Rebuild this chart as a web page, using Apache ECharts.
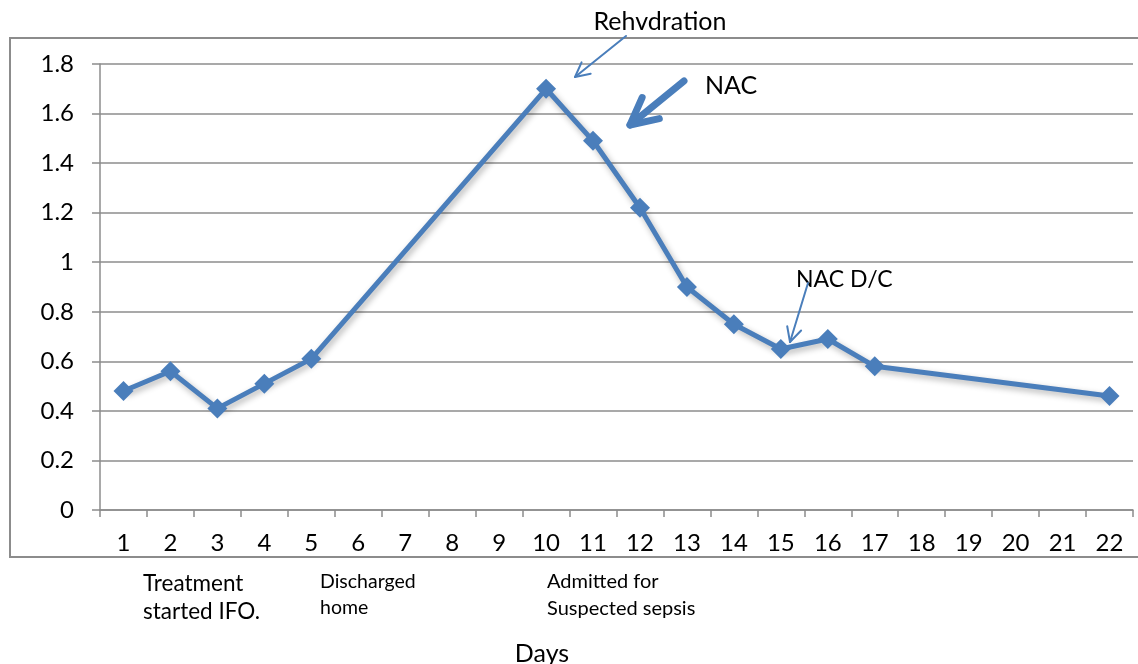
<!DOCTYPE html>
<html>
<head>
<meta charset="utf-8">
<script src="https://cdn.jsdelivr.net/npm/echarts@6/dist/echarts.min.js"></script>
<style>
  html, body { margin: 0; padding: 0; background: #fff; }
  #chart { width: 1138px; height: 664px; }
</style>
</head>
<body>
<div id="chart"></div>
<script>
// day numbers on the x axis
const days = ['1','2','3','4','5','6','7','8','9','10','11','12','13','14','15','16','17','18','19','20','21','22'];
// measured values (null = no reading that day)
const values = [0.48, 0.56, 0.41, 0.51, 0.61, null, null, null, null, 1.70, 1.49, 1.22, 0.90, 0.75, 0.65, 0.69, 0.58, null, null, null, null, 0.46];
const yTicks = [0, 0.2, 0.4, 0.6, 0.8, 1, 1.2, 1.4, 1.6, 1.8];

const blue = '#4a7ebb';
const font = 'Lato, "Open Sans", sans-serif';

// arrow made of a shaft and two head strokes
function arrow(x1, y1, x2, y2, width, headLen) {
  const ang = Math.atan2(y1 - y2, x1 - x2);
  const spread = 27 * Math.PI / 180;
  const hx1 = x2 + headLen * Math.cos(ang - spread), hy1 = y2 + headLen * Math.sin(ang - spread);
  const hx2 = x2 + headLen * Math.cos(ang + spread), hy2 = y2 + headLen * Math.sin(ang + spread);
  const st = { stroke: blue, lineWidth: width, lineCap: 'round', lineJoin: 'round', fill: null };
  return [
    { type: 'line', shape: { x1: x1, y1: y1, x2: x2, y2: y2 }, style: st, z: 10 },
    { type: 'polyline', shape: { points: [[hx1, hy1], [x2, y2], [hx2, hy2]] }, style: st, z: 10 }
  ];
}

function label(x, y, text, size, lh, align) {
  return {
    type: 'text', x: x, y: y, z: 10,
    style: { text: text, fontFamily: font, fontSize: size, fill: '#000', align: align || 'left', verticalAlign: 'middle', lineHeight: lh || size }
  };
}

const chart = echarts.init(document.getElementById('chart'));
chart.setOption({
  animation: false,
  grid: { left: 100, right: 5, top: 64, bottom: 154, outerBoundsMode: 'none' },
  xAxis: {
    type: 'category',
    data: days,
    boundaryGap: true,
    axisLine: { lineStyle: { color: '#8c8c8c', width: 1.5 } },
    axisTick: { show: true, alignWithLabel: false, inside: false, length: 7, lineStyle: { color: '#8c8c8c', width: 1.5 } },
    axisLabel: { fontFamily: font, fontSize: 24, color: '#000', margin: 21, interval: 0 },
    splitLine: { show: false }
  },
  yAxis: {
    type: 'value',
    min: 0,
    max: yTicks[yTicks.length - 1],
    interval: 0.2,
    axisLine: { show: true, lineStyle: { color: '#8c8c8c', width: 1.5 } },
    axisTick: { show: true, length: 8, lineStyle: { color: '#8c8c8c', width: 1.5 } },
    axisLabel: {
      fontFamily: font, fontSize: 24, color: '#000', margin: 26,
      formatter: function (v) { return String(Math.round(v * 10) / 10); }
    },
    splitLine: { show: true, lineStyle: { color: '#8c8c8c', width: 1.5 } }
  },
  series: [{
    type: 'line',
    data: values,
    connectNulls: true,
    symbol: 'diamond',
    symbolSize: 20,
    itemStyle: { color: blue },
    lineStyle: { color: blue, width: 5, shadowColor: 'rgba(0,0,0,0.3)', shadowBlur: 6, shadowOffsetX: 2, shadowOffsetY: 3 },
    z: 5
  }],
  graphic: [
    { type: 'rect', shape: { x: 10, y: 38, width: 1140, height: 519 }, style: { stroke: '#8c8c8c', lineWidth: 2, fill: null }, z: 0 },
    label(660, 22, 'Rehvdration', 25, 25, 'center'),
    label(705, 86, 'NAC', 25),
    label(796, 280, 'NAC D/C', 23),
    label(143, 598, 'Treatment\nstarted IFO.', 22.5, 28),
    label(320, 595, 'Discharged\nhome', 19.5, 26),
    label(547, 595, 'Admitted for\nSuspected sepsis', 20, 27),
    label(542, 654, 'Days', 25, 25, 'center')
  ]
    .concat(arrow(626, 36, 575, 77, 2, 16))
    .concat(arrow(684, 81, 630, 125, 7, 30))
    .concat(arrow(808, 283, 790, 342, 2, 16))
});
</script>
</body>
</html>
